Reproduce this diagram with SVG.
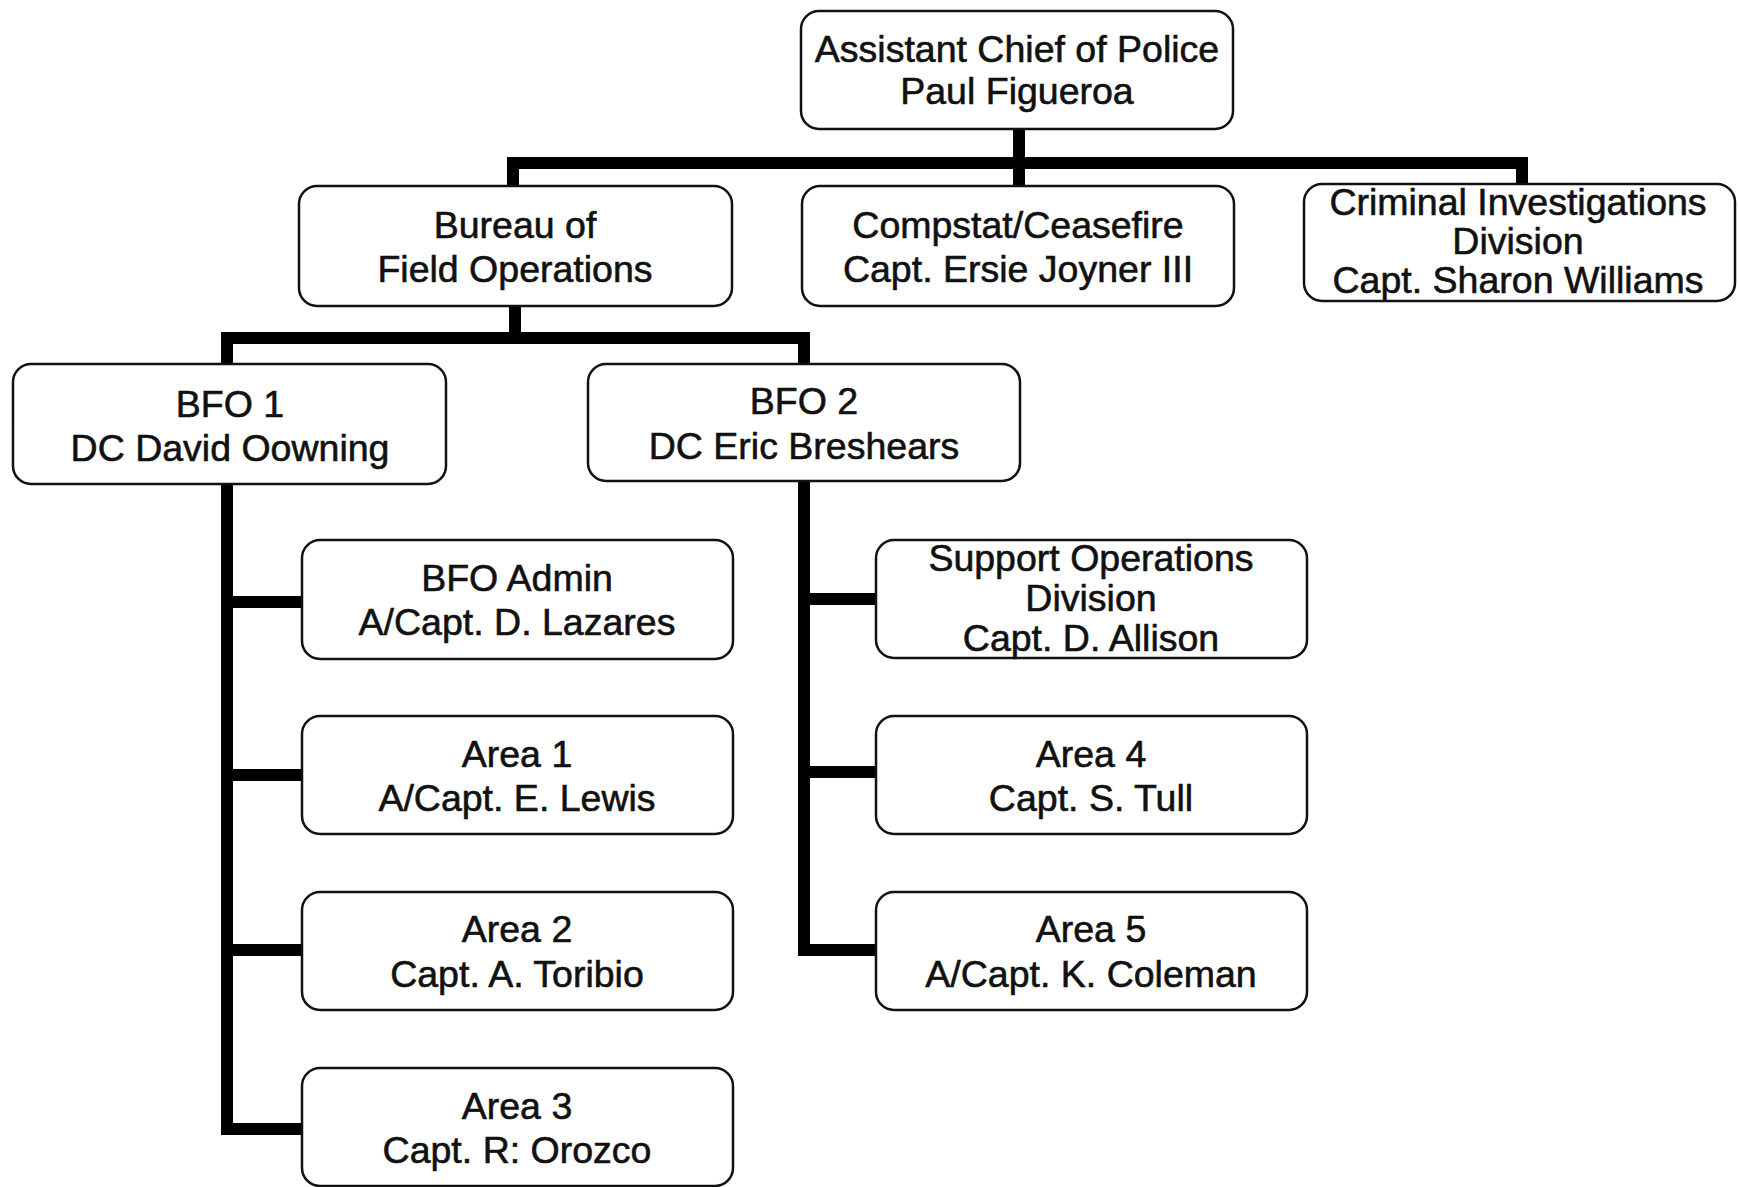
<svg xmlns="http://www.w3.org/2000/svg" width="1739" height="1187" viewBox="0 0 1739 1187">
<style>
.box{fill:#fff;stroke:#111;stroke-width:2.5}
.t{font-family:"Liberation Sans",Arial,sans-serif;font-size:37.5px;fill:#111;stroke:#111;stroke-width:0.6;text-anchor:middle}
.c{fill:none;stroke:#000;stroke-width:12;stroke-linejoin:miter;stroke-linecap:square}
</style>
<rect width="1739" height="1187" fill="#fff"/>
<g id="connectors">
<path class="c" d="M1019,129 V163 M513,186 V163 H1522 V184 M1019,163 V186"/>
<path class="c" d="M515,306 V338 M227,364 V338 H804 V364"/>
<path class="c" d="M227,484 V1129 H302 M227,602 H302 M227,775 H302 M227,950 H302"/>
<path class="c" d="M804,481 V950 H876 M804,599 H876 M804,772 H876"/>
</g>
<g id="n-acp"><rect class="box" x="801" y="11" width="432" height="118" rx="18"/><text class="t" x="1017" y="62">Assistant Chief of Police</text><text class="t" x="1017" y="104">Paul Figueroa</text></g>
<g id="n-bfo"><rect class="box" x="299" y="186" width="433" height="120" rx="18"/><text class="t" x="515" y="238">Bureau of</text><text class="t" x="515" y="282">Field Operations</text></g>
<g id="n-compstat"><rect class="box" x="802" y="186" width="432" height="120" rx="18"/><text class="t" x="1018" y="238">Compstat/Ceasefire</text><text class="t" x="1018" y="282">Capt. Ersie Joyner III</text></g>
<g id="n-cid"><rect class="box" x="1304" y="184" width="431" height="117" rx="18"/><text class="t" x="1518" y="215">Criminal Investigations</text><text class="t" x="1518" y="254">Division</text><text class="t" x="1518" y="293">Capt. Sharon Williams</text></g>
<g id="n-bfo1"><rect class="box" x="13" y="364" width="433" height="120" rx="18"/><text class="t" x="230" y="417">BFO 1</text><text class="t" x="230" y="461">DC David Oowning</text></g>
<g id="n-bfo2"><rect class="box" x="588" y="364" width="432" height="117" rx="18"/><text class="t" x="804" y="414">BFO 2</text><text class="t" x="804" y="459">DC Eric Breshears</text></g>
<g id="n-admin"><rect class="box" x="302" y="540" width="431" height="119" rx="18"/><text class="t" x="517" y="591">BFO Admin</text><text class="t" x="517" y="635">A/Capt. D. Lazares</text></g>
<g id="n-area1"><rect class="box" x="302" y="716" width="431" height="118" rx="18"/><text class="t" x="517" y="767">Area 1</text><text class="t" x="517" y="811">A/Capt. E. Lewis</text></g>
<g id="n-area2"><rect class="box" x="302" y="892" width="431" height="118" rx="18"/><text class="t" x="517" y="942">Area 2</text><text class="t" x="517" y="987">Capt. A. Toribio</text></g>
<g id="n-area3"><rect class="box" x="302" y="1068" width="431" height="118" rx="18"/><text class="t" x="517" y="1119">Area 3</text><text class="t" x="517" y="1163">Capt. R: Orozco</text></g>
<g id="n-support"><rect class="box" x="876" y="540" width="431" height="118" rx="18"/><text class="t" x="1091" y="571">Support Operations</text><text class="t" x="1091" y="611">Division</text><text class="t" x="1091" y="651">Capt. D. Allison</text></g>
<g id="n-area4"><rect class="box" x="876" y="716" width="431" height="118" rx="18"/><text class="t" x="1091" y="767">Area 4</text><text class="t" x="1091" y="811">Capt. S. Tull</text></g>
<g id="n-area5"><rect class="box" x="876" y="892" width="431" height="118" rx="18"/><text class="t" x="1091" y="942">Area 5</text><text class="t" x="1091" y="987">A/Capt. K. Coleman</text></g>
</svg>
